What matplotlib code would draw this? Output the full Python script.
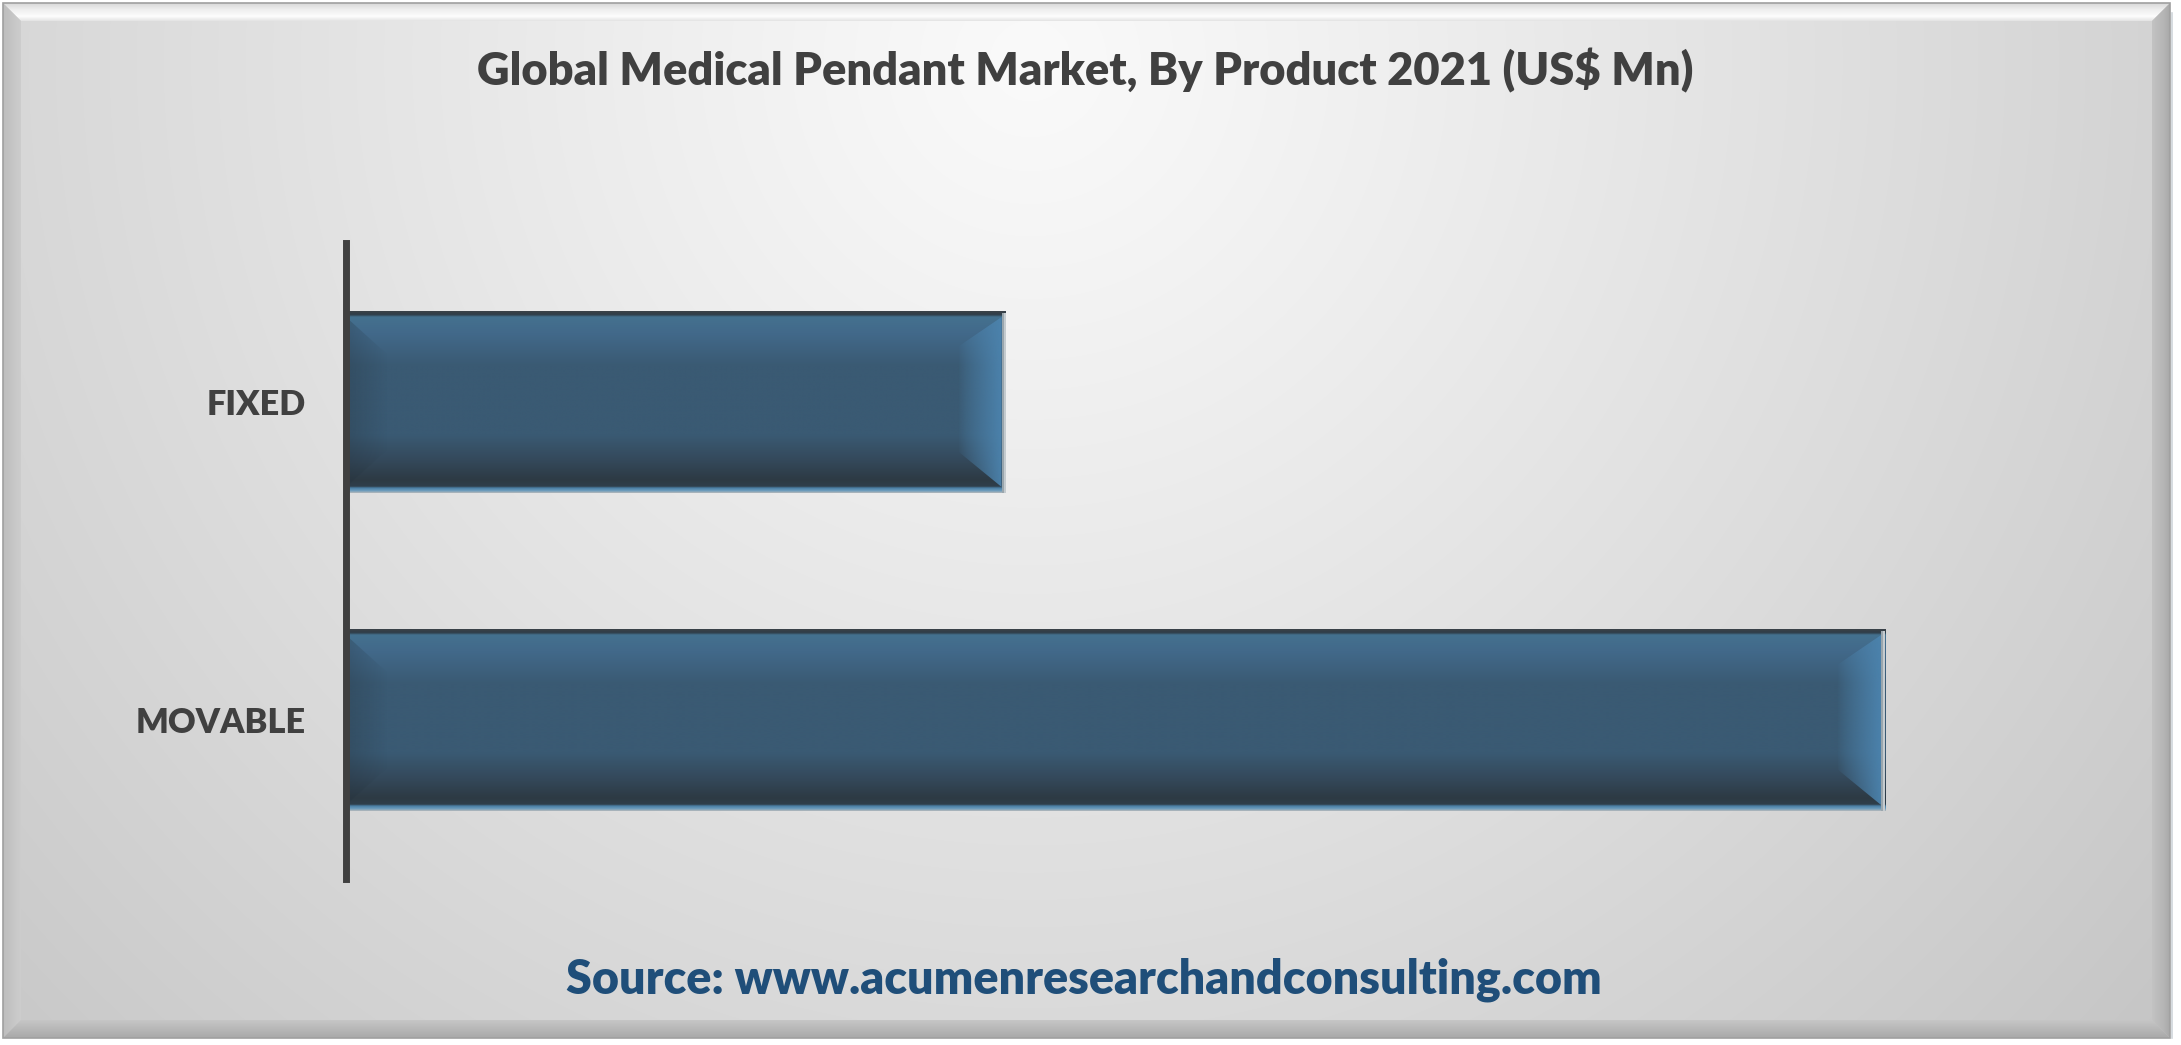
import numpy as np
import matplotlib
matplotlib.use('Agg')
import matplotlib.pyplot as plt
from matplotlib.patches import Polygon, Rectangle
from matplotlib.colors import to_rgb, to_rgba

# ---------------- data ----------------
categories = ['FIXED', 'MOVABLE']
values = [330, 770]
title_text = 'Global Medical Pendant Market, By Product 2021 (US$ Mn)'
source_text = 'Source: www.acumenresearchandconsulting.com'

plt.rcParams['font.family'] = ['Lato', 'DejaVu Sans']

W, H = 2181, 1045
DPI = 100
fig = plt.figure(figsize=(W / DPI, H / DPI), dpi=DPI, facecolor='white')


def vgrad(stops, n):
    """vertical list of rgb from stops [(frac, color)]"""
    f = np.linspace(0, 1, n)
    fr = [s[0] for s in stops]
    cols = np.array([to_rgb(s[1]) for s in stops])
    out = np.stack([np.interp(f, fr, cols[:, i]) for i in range(3)], axis=1)
    return out


def grad_image(ax, extent, rgba, clip, z):
    im = ax.imshow(rgba, extent=extent, origin='upper', aspect='auto',
                   interpolation='bilinear', zorder=z)
    im.set_clip_path(clip)
    return im


# ---------------- background & frame (pixel coordinates) ----------------
bg = fig.add_axes([0, 0, 1, 1], zorder=0)
bg.set_xlim(0, W)
bg.set_ylim(H, 0)
bg.axis('off')

fx0, fy0, fx1, fy1 = 3, 3, 2170, 1038
yy, xx = np.mgrid[fy0:fy1:2, fx0:fx1:2]
d = np.sqrt(((xx - 1030) / 1500.) ** 2 + ((yy - 60) / 1500.) ** 2)
v = (250 - 53 * d ** 1.1) / 255.
img = np.dstack([v, v, v])
bg.imshow(img, extent=(fx0, fx1, fy1, fy0), origin='upper', aspect='auto',
          interpolation='bilinear', zorder=0)

b = 18
# top bevel (highlight)
top_poly = Polygon([(fx0, fy0), (fx1, fy0), (fx1 - b, fy0 + b), (fx0 + b, fy0 + b)],
                   closed=True, facecolor='none', edgecolor='none')
bg.add_patch(top_poly)
col = vgrad([(0, '#d8d8d8'), (0.35, '#eeeeee'), (0.75, '#fdfdfd'), (1, '#e4e4e4')], 40)
rgba = np.ones((40, 2, 4))
rgba[:, :, :3] = col[:, None, :]
grad_image(bg, (fx0, fx1, fy0 + b, fy0), rgba, top_poly, 1)

# left bevel
lp = Polygon([(fx0, fy0), (fx0 + b, fy0 + b), (fx0 + b, fy1 - b), (fx0, fy1)],
             closed=True, facecolor='none', edgecolor='none')
bg.add_patch(lp)
colh = vgrad([(0, '#bdbdbd'), (1, '#cdcdcd')], 40)
rgba = np.ones((2, 40, 4))
rgba[:, :, :3] = colh[None, :, :]
grad_image(bg, (fx0, fx0 + b, fy1, fy0), rgba, lp, 1)

# right bevel
rp = Polygon([(fx1, fy0), (fx1 - b, fy0 + b), (fx1 - b, fy1 - b), (fx1, fy1)],
             closed=True, facecolor='none', edgecolor='none')
bg.add_patch(rp)
colh = vgrad([(0, '#c3c3c3'), (0.7, '#b4b4b4'), (1, '#a8a8a8')], 40)
rgba = np.ones((2, 40, 4))
rgba[:, :, :3] = colh[None, :, :]
grad_image(bg, (fx1 - b, fx1, fy1, fy0), rgba, rp, 1)

# bottom bevel
bp = Polygon([(fx0, fy1), (fx0 + b, fy1 - b), (fx1 - b, fy1 - b), (fx1, fy1)],
             closed=True, facecolor='none', edgecolor='none')
bg.add_patch(bp)
col = vgrad([(0, '#c6c6c6'), (1, '#a9a9a9')], 40)
rgba = np.ones((40, 2, 4))
rgba[:, :, :3] = col[:, None, :]
grad_image(bg, (fx0, fx1, fy1, fy1 - b), rgba, bp, 1)

bg.add_patch(Rectangle((fx0, fy0), fx1 - fx0, fy1 - fy0, facecolor='none',
                       edgecolor='#a0a0a0', linewidth=1.2, zorder=3))
bg.plot([fx1 + 2, fx1 + 2], [fy0 + 10, fy1], color='#d0d6da', lw=1.2, zorder=3)
bg.set_xlim(0, W)
bg.set_ylim(H, 0)

# ---------------- main axes ----------------
ax_left, ax_right = 346, 2000
ax_top, ax_bot = 243, 879
ax = fig.add_axes([ax_left / W, (H - ax_bot) / H, (ax_right - ax_left) / W,
                   (ax_bot - ax_top) / H], zorder=2)
ax.patch.set_alpha(0)
movable_px = 1885 - ax_left
xmax = max(values) * (ax_right - ax_left) / movable_px
ypos = np.arange(len(categories))
bar_h = 0.572
bars = ax.barh(ypos, values, height=bar_h, color='#3a5a73', zorder=1,
               edgecolor='none')
ax.set_xlim(0, xmax)
ax.set_ylim(len(categories) - 0.5, -0.5)

for s in ['top', 'right', 'bottom']:
    ax.spines[s].set_visible(False)
ax.spines['left'].set_color('#404040')
ax.spines['left'].set_linewidth(5)
ax.spines['left'].set_zorder(5)
ax.set_xticks([])
ax.set_yticks(ypos)
ax.set_yticklabels(categories, fontsize=26, fontweight='heavy', color='#404040')
ax.tick_params(axis='y', length=0, pad=29)

# data units per pixel
dxp = xmax / (ax_right - ax_left)
dyp = (len(categories)) / (ax_bot - ax_top)

main_stops = [(0, '#3a4248'), (0.018, '#2f3d48'), (0.03, '#44718f'),
              (0.12, '#42698a'), (0.3, '#3a5a73'), (0.68, '#3a5a73'),
              (0.82, '#34495b'), (0.93, '#2d3a44'), (0.965, '#2f3f4b'),
              (0.975, '#4a7fa6'), (0.99, '#6f9dbd'), (1.0, '#aab4ba')]

for rect in bars:
    x0 = rect.get_x()
    w = rect.get_width()
    yt = rect.get_y()
    hh = rect.get_height()
    yb = yt + hh
    # vertical body gradient
    col = vgrad(main_stops, 200)
    rgba = np.ones((200, 2, 4))
    rgba[:, :, :3] = col[:, None, :]
    grad_image(ax, (x0, x0 + w, yb, yt), rgba, rect, 2)

    e = 6 * dyp
    # left bevel (darker)
    bw, bh = 42 * dxp, 44 * dyp
    lpoly = Polygon([(x0, yt + e), (x0 + bw, yt + bh), (x0 + bw, yb - bh), (x0, yb - e)],
                    closed=True, facecolor='none', edgecolor='none')
    ax.add_patch(lpoly)
    rgba = np.zeros((2, 50, 4))
    rgba[:, :, :3] = to_rgb('#24323e')
    rgba[:, :, 3] = np.linspace(0.3, 0.0, 50)[None, :]
    grad_image(ax, (x0, x0 + bw, yb, yt), rgba, lpoly, 3)

    # right bevel (lighter)
    rbw, rbh_t, rbh_b = 44 * dxp, 36 * dyp, 42 * dyp
    xr = x0 + w - 4 * dxp
    rpoly = Polygon([(xr, yt + e), (xr - rbw, yt + rbh_t), (xr - rbw, yb - rbh_b), (xr, yb - e)],
                    closed=True, facecolor='none', edgecolor='none')
    ax.add_patch(rpoly)
    rgba = np.zeros((2, 50, 4))
    rgba[:, :, :3] = to_rgb('#4c83ad')
    rgba[:, :, 3] = np.linspace(0.0, 0.95, 50)[None, :] ** 0.8
    grad_image(ax, (xr - rbw, xr, yb, yt), rgba, rpoly, 3)

    # right light outline
    ax.add_patch(Rectangle((x0 + w - 4 * dxp, yt + 2 * dyp), 4 * dxp, hh - 2 * dyp,
                           facecolor='#9aa6ad', edgecolor='none', zorder=4))
    ax.add_patch(Rectangle((x0 + w - 2 * dxp, yt + 2 * dyp), 2 * dxp, hh - 2 * dyp,
                           facecolor='#c4cbcf', edgecolor='none', zorder=4))

ax.set_xlim(0, xmax)
ax.set_ylim(len(categories) - 0.5, -0.5)

# ---------------- texts ----------------
t_title = fig.text(1085.5 / W, 1 - 85 / H, title_text, ha='center', va='baseline',
                   fontsize=30, fontweight='heavy', color='#404040', zorder=10)
t_src = fig.text(1083.5 / W, 1 - 993 / H, source_text, ha='center', va='baseline',
                 fontsize=26, fontweight='heavy', color='#1f4e79', zorder=10)

renderer = fig.canvas.get_renderer()


def fit(t, target):
    for _ in range(3):
        wcur = t.get_window_extent(renderer).width
        t.set_fontsize(t.get_fontsize() * target / wcur)


fit(t_title, 1217)
fit(t_src, 1037)
lab = ax.get_yticklabels()[1]
for _ in range(3):
    wcur = lab.get_window_extent(renderer).width
    fs = lab.get_fontsize() * 170 / wcur
    for l in ax.get_yticklabels():
        l.set_fontsize(fs)

fig.savefig('out.png', dpi=DPI, facecolor='white')
